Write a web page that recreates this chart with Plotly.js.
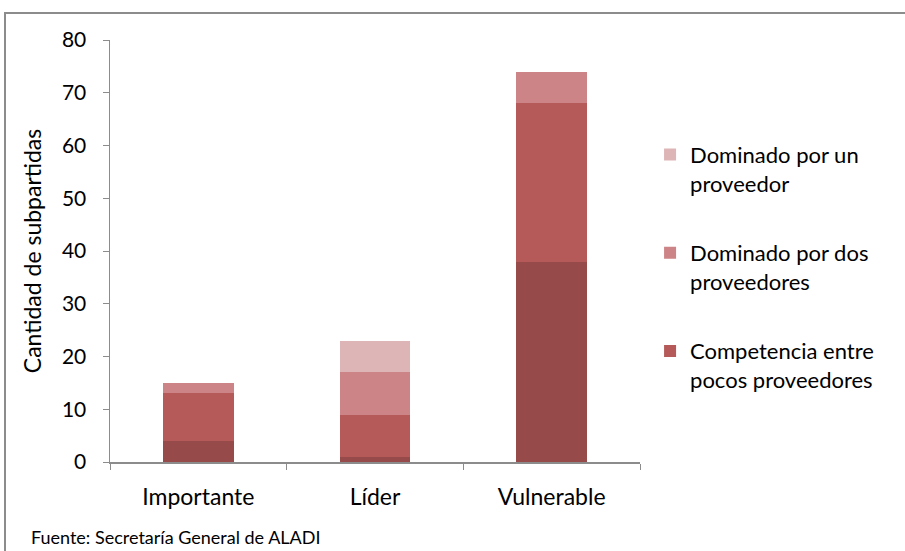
<!DOCTYPE html>
<html><head><meta charset="utf-8">
<script src="https://cdn.plot.ly/plotly-3.0.1.min.js"></script>
<style>
body{margin:0;padding:0;background:#fff;}
#wrap{position:relative;width:905px;height:551px;overflow:hidden;}
#chart{position:absolute;left:0;top:0;width:905px;height:551px;}
#frame{position:absolute;left:4px;top:12px;width:920px;height:600px;border:2px solid #8c8c8c;pointer-events:none;}
</style></head>
<body><div id="wrap"><div id="chart"></div><div id="frame"></div></div>
<script>
const categories = ["Importante", "Líder", "Vulnerable"];
const competitivo = [4, 1, 38];
const competenciaPocos = [9, 8, 30];
const dominadoDos = [2, 8, 6];
const dominadoUno = [0, 6, 0];
const yTicks = [0, 10, 20, 30, 40, 50, 60, 70, 80];

const font = "Lato, 'Open Sans', sans-serif";
const traces = [
  {name: "Competitivo", y: competitivo, color: "#964a4a", show: false, rank: 4},
  {name: "Competencia entre<br>pocos proveedores", y: competenciaPocos, color: "#b55a58", show: true, rank: 3},
  {name: "Dominado por dos<br>proveedores", y: dominadoDos, color: "#cd8486", show: true, rank: 2},
  {name: "Dominado por un<br>proveedor", y: dominadoUno, color: "#ddb5b6", show: true, rank: 1}
].map((t, i) => ({
  type: "bar", x: categories, y: t.y, name: t.name, showlegend: t.show,
  legendgroup: "g" + i, legendrank: t.rank,
  marker: {color: t.color, line: {width: 0}},
  hoverinfo: "y+name"
}));

const layout = {
  width: 905, height: 551,
  margin: {l: 110, r: 265, t: 40, b: 89},
  barmode: "stack", bargap: 0.6,
  paper_bgcolor: "#fff", plot_bgcolor: "#fff",
  font: {family: font, size: 21, color: "#000"},
  xaxis: {
    showline: true, linecolor: "#8c8c8c", linewidth: 1.5,
    ticks: "outside", tickson: "boundaries", ticklen: 6, tickcolor: "#8c8c8c",
    tickfont: {size: 23, family: font}, showgrid: false, ticklabelstandoff: 14
  },
  yaxis: {
    range: [0, 80], tickvals: yTicks, ticktext: yTicks.map(String),
    showline: true, linecolor: "#8c8c8c", linewidth: 1.5,
    ticks: "outside", ticklen: 6, tickcolor: "#8c8c8c",
    showgrid: false, zeroline: false, ticklabelstandoff: 12,
    tickfont: {size: 21, family: font},
    title: {text: "Cantidad de subpartidas", font: {size: 23, family: font}, standoff: 14}
  },
  legend: {
    x: 1.019, y: 0.778, xanchor: "left", yanchor: "top",
    traceorder: "grouped", tracegroupgap: 38, valign: "top",
    font: {size: 22, family: font}, itemwidth: 30
  },
  annotations: [{
    text: "Fuente: Secretaría General de ALADI",
    xref: "paper", yref: "paper", x: -0.153, y: -0.148,
    xanchor: "left", yanchor: "top", showarrow: false,
    font: {size: 18, family: font, color: "#000"}
  }]
};
Plotly.newPlot("chart", traces, layout, {displayModeBar: false, staticPlot: true});
</script></body></html>
